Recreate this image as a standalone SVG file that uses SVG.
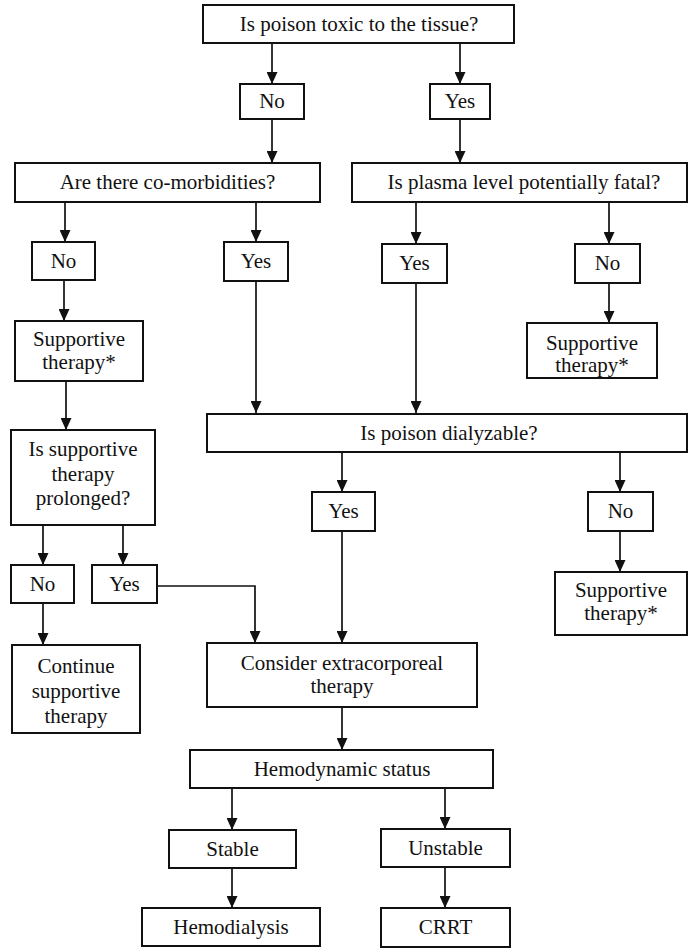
<svg xmlns="http://www.w3.org/2000/svg" width="689" height="949" viewBox="0 0 689 949">
<style>
rect{fill:#fff;stroke:#111;stroke-width:2}
text{font-size:21px;fill:#111;text-anchor:middle}
.c line,.c polyline{stroke:#111;stroke-width:1.7;fill:none;marker-end:url(#ah)}
</style>
<defs>
<marker id="ah" markerUnits="userSpaceOnUse" markerWidth="12" markerHeight="11" refX="12" refY="5.5" orient="auto">
<path d="M0,0 L12,5.5 L0,11 z" fill="#111"/>
</marker>
</defs>
<rect x="0" y="0" width="689" height="949" style="stroke:none"/>
<g class="c" id="connectors">
<line x1="272" y1="43" x2="272" y2="84"/>
<line x1="460" y1="43" x2="460" y2="84"/>
<line x1="272" y1="119" x2="272" y2="163"/>
<line x1="460" y1="119" x2="460" y2="163"/>
<line x1="65" y1="202" x2="65" y2="242"/>
<line x1="256" y1="202" x2="256" y2="242"/>
<line x1="416" y1="202" x2="416" y2="244"/>
<line x1="609" y1="202" x2="609" y2="244"/>
<line x1="64" y1="280" x2="64" y2="321"/>
<line x1="256" y1="281" x2="256" y2="413"/>
<line x1="416" y1="283" x2="416" y2="413"/>
<line x1="609" y1="283" x2="609" y2="323"/>
<line x1="66" y1="381" x2="66" y2="430"/>
<line x1="43" y1="525" x2="43" y2="565"/>
<line x1="123" y1="525" x2="123" y2="565"/>
<line x1="43" y1="603" x2="43" y2="645"/>
<polyline points="157,586 255,586 255,643"/>
<line x1="342" y1="452" x2="342" y2="492"/>
<line x1="620" y1="452" x2="620" y2="492"/>
<line x1="342" y1="531" x2="342" y2="643"/>
<line x1="620" y1="531" x2="620" y2="572"/>
<line x1="342" y1="707" x2="342" y2="750"/>
<line x1="232" y1="788" x2="232" y2="830"/>
<line x1="445" y1="788" x2="445" y2="829"/>
<line x1="232" y1="868" x2="232" y2="908"/>
<line x1="445" y1="867" x2="445" y2="908"/>
</g>
<g font-family="'Liberation Serif', 'DejaVu Serif', serif">
<g id="toxic"><rect x="203" y="5" width="311" height="38"/><text x="359" y="31">Is poison toxic to the tissue?</text></g>
<g id="no1"><rect x="240" y="84" width="64" height="35"/><text x="272" y="108">No</text></g>
<g id="yes1"><rect x="430" y="84" width="60" height="35"/><text x="460" y="108">Yes</text></g>
<g id="comorb"><rect x="15" y="163" width="305" height="39"/><text x="167.5" y="189">Are there co-morbidities?</text></g>
<g id="plasma"><rect x="352" y="163" width="335" height="39"/><text x="524" y="189">Is plasma level potentially fatal?</text></g>
<g id="no2"><rect x="32" y="242" width="63" height="38"/><text x="63.5" y="268">No</text></g>
<g id="yes2"><rect x="224" y="242" width="64" height="39"/><text x="256" y="268">Yes</text></g>
<g id="yes3"><rect x="382" y="244" width="65" height="39"/><text x="414.5" y="270">Yes</text></g>
<g id="no3"><rect x="575" y="244" width="65" height="39"/><text x="607.5" y="270">No</text></g>
<g id="supp1"><rect x="15" y="321" width="128" height="60"/><text x="79" y="346">Supportive</text><text x="79" y="369">therapy*</text></g>
<g id="supp2"><rect x="527" y="323" width="130" height="55"/><text x="592" y="350">Supportive</text><text x="592" y="372">therapy*</text></g>
<g id="dialyzable"><rect x="207" y="414" width="480" height="38"/><text x="449" y="440">Is poison dialyzable?</text></g>
<g id="prolonged"><rect x="11" y="430" width="144" height="95"/><text x="83" y="456">Is supportive</text><text x="83" y="480.5">therapy</text><text x="83" y="505">prolonged?</text></g>
<g id="yes4"><rect x="312" y="492" width="63" height="39"/><text x="343.5" y="518">Yes</text></g>
<g id="no4"><rect x="588" y="492" width="65" height="39"/><text x="620.5" y="518">No</text></g>
<g id="supp3"><rect x="555" y="572" width="132" height="63"/><text x="621" y="597">Supportive</text><text x="621" y="620">therapy*</text></g>
<g id="no5"><rect x="11" y="565" width="63" height="38"/><text x="42.5" y="591">No</text></g>
<g id="yes5"><rect x="92" y="565" width="65" height="38"/><text x="124.5" y="591">Yes</text></g>
<g id="continue"><rect x="12" y="645" width="128" height="88"/><text x="76" y="673">Continue</text><text x="76" y="698">supportive</text><text x="76" y="723">therapy</text></g>
<g id="consider"><rect x="207" y="643" width="270" height="64"/><text x="342" y="670">Consider extracorporeal</text><text x="342" y="693">therapy</text></g>
<g id="hemodyn"><rect x="190" y="750" width="303" height="38"/><text x="342" y="776">Hemodynamic status</text></g>
<g id="stable"><rect x="169" y="830" width="127" height="38"/><text x="232.5" y="856">Stable</text></g>
<g id="unstable"><rect x="381" y="829" width="129" height="38"/><text x="445.5" y="855">Unstable</text></g>
<g id="hemodialysis"><rect x="142" y="908" width="178" height="38"/><text x="231" y="934">Hemodialysis</text></g>
<g id="crrt"><rect x="381" y="908" width="129" height="39"/><text x="445.5" y="934">CRRT</text></g>
</g>
</svg>
